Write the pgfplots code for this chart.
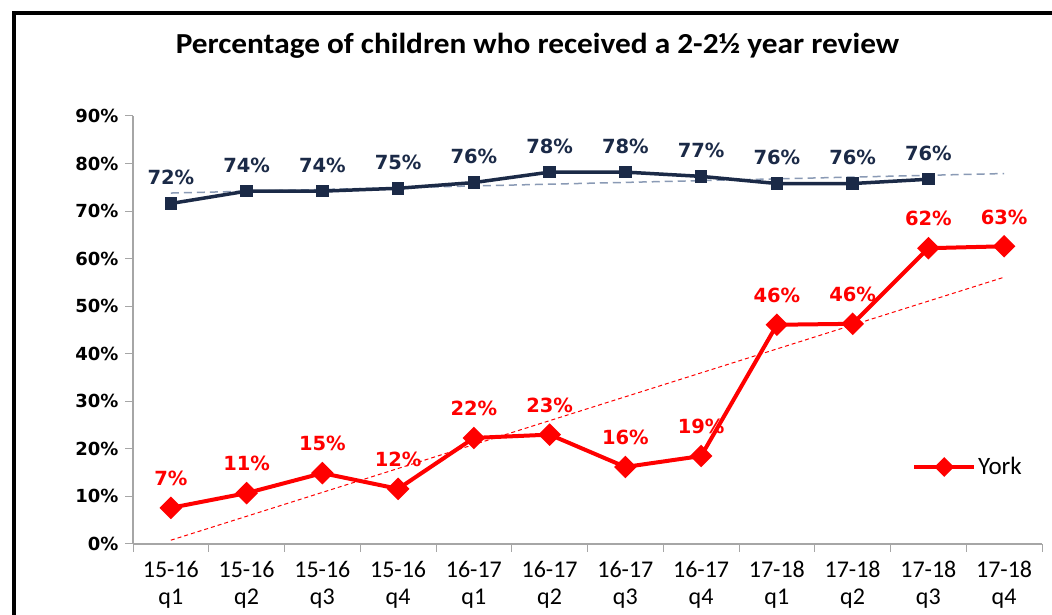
\documentclass[border=0pt]{standalone}
\usepackage{pgfplots}
\pgfplotsset{compat=1.18}
\usepackage{fontspec}
\setmainfont{Carlito}
\newfontfamily\verd{DejaVu Sans}
\definecolor{navy}{HTML}{1B2A47}
\definecolor{navytrend}{HTML}{8A9AB5}
\definecolor{axgray}{HTML}{A6A6A6}
\definecolor{yred}{HTML}{FF0000}
\begin{document}
\begin{tikzpicture}[x=1pt,y=1pt]
\fill[white, use as bounding box] (0,0) rectangle (1052,615);
\draw[line width=4pt] (14,0) -- (14,601.5) -- (1052,601.5);
\node[font=\fontsize{29}{31}\selectfont\bfseries] at (537.5,569) {\scalebox{1.08}[1]{Percentage of children who received a 2-2½ year review}};
\begin{axis}[at={(133pt,71pt)}, anchor=south west, scale only axis,
  width=909pt, height=428pt,
  xmin=0.5, xmax=12.5, ymin=0, ymax=90,
  axis x line=bottom, axis y line=left,
  axis line style={axgray, line width=1.2pt, -},
  tick align=outside,
  xtick={1,...,12},
  xticklabels={{15-16\\q1},{15-16\\q2},{15-16\\q3},{15-16\\q4},{16-17\\q1},{16-17\\q2},{16-17\\q3},{16-17\\q4},{17-18\\q1},{17-18\\q2},{17-18\\q3},{17-18\\q4}},
  xticklabel style={align=center, font=\fontsize{24}{27}\selectfont, yshift=-6pt},
  major x tick style={draw=none},
  minor xtick={0.5,1.5,...,12.5},
  minor tick length=8pt,
  minor x tick style={axgray, line width=1pt},
  ytick={0,10,...,90},
  yticklabel={\pgfmathprintnumber{\tick}\%},
  yticklabel style={font=\verd\bfseries\fontsize{18}{20}\selectfont, xshift=-3pt},
  major tick length=8pt,
  y tick style={axgray, line width=1pt},
  /pgf/number format/assume math mode=true,
  clip=false,
  legend style={draw=none, fill=none, at={(0.857,0.18)}, anchor=west, inner sep=0pt,
    font=\fontsize{25}{27}\selectfont},
  legend image code/.code={
    \draw[#1, mark=none] (0pt,0pt) -- (60pt,0pt);
    \draw[#1, only marks, mark size=5pt] plot coordinates {(30pt,0pt)};
  },
]
% trend lines
\addplot[navytrend, line width=1.5pt, dash pattern=on 8pt off 5pt, forget plot] coordinates {(1,73.8) (12,77.9)};
\addplot[yred, line width=1pt, dash pattern=on 4pt off 3pt, forget plot] coordinates {(1,0.8) (12,56.1)};
% England
\addplot[navy, line width=3.5pt, mark=square*, mark size=4.5pt, mark options={solid},
  point meta=explicit symbolic, nodes near coords,
  nodes near coords style={font=\verd\bfseries\fontsize{19.5}{21}\selectfont, text=navy, anchor=south, inner sep=0pt, yshift=17pt},
  forget plot] coordinates {
  (1,71.6) [72\%] (2,74.2) [74\%] (3,74.2) [74\%] (4,74.8) [75\%] (5,76.0) [76\%] (6,78.2) [78\%]
  (7,78.2) [78\%] (8,77.3) [77\%] (9,75.8) [76\%] (10,75.8) [76\%] (11,76.7) [76\%]
};
% York
\addplot[yred, line width=4pt, mark=square*, mark size=6pt, mark options={solid, rotate=45},
  point meta=explicit symbolic, nodes near coords,
  nodes near coords style={font=\verd\bfseries\fontsize{19.5}{21}\selectfont, text=yred, anchor=south, inner sep=0pt, yshift=20pt}]
  coordinates {
  (1,7.6) [7\%] (2,10.7) [11\%] (3,14.9) [15\%] (4,11.6) [12\%] (5,22.3) [22\%] (6,23.0) [23\%]
  (7,16.2) [16\%] (8,18.5) [19\%] (9,46.1) [46\%] (10,46.3) [46\%] (11,62.2) [62\%] (12,62.6) [63\%]
};
\addlegendentry{York}
\end{axis}
\end{tikzpicture}
\end{document}
